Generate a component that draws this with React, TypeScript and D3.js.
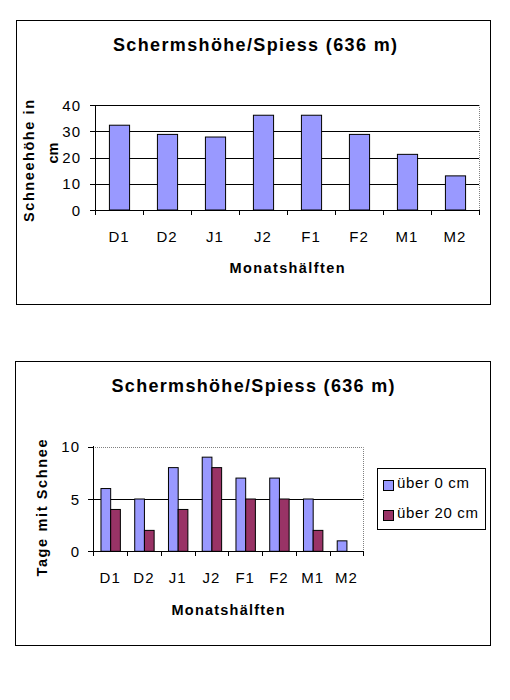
import React from "react";
import * as d3 from "d3";

const categories = ["D1", "D2", "J1", "J2", "F1", "F2", "M1", "M2"];
const snowDepth = [32.3, 28.8, 27.8, 36.1, 36.1, 28.8, 21.2, 13.0];
const daysOver0 = [6, 5, 8, 9, 7, 7, 5, 1];
const daysOver20 = [4, 2, 4, 8, 5, 5, 2, 0];
const ticks1 = [0, 10, 20, 30, 40];
const ticks2 = [0, 5, 10];
const seriesNames = ["über 0 cm", "über 20 cm"];
const seriesColors = ["#9999FF", "#993366"];

const FONT = "Arial, 'Liberation Sans', sans-serif";

function Chart1() {
  const x = d3.scaleBand<string>().domain(categories).range([95, 479]).padding(0);
  const y = d3.scaleLinear().domain([0, 40]).range([210, 105]);
  const bw = x.bandwidth() * 0.42;
  return (
    <g>
      <rect x={16.5} y={20.5} width={474} height={284} fill="white" stroke="black" strokeWidth={1} />
      <text x={255} y={50.5} textAnchor="middle" fontFamily={FONT} fontWeight="bold" fontSize={18}
        textLength={284} lengthAdjust="spacing">Schermshöhe/Spiess (636 m)</text>
      <path d={`M95,${y(40) + 0.5}H479.5V210`} fill="none" stroke="#808080" strokeDasharray="1,1" />
      {ticks1.filter(t => t > 0).map(t => (
        <line key={t} x1={95} x2={479} y1={Math.round(y(t)) + 0.5} y2={Math.round(y(t)) + 0.5} stroke="black" />
      ))}
      {ticks1.map(t => (
        <g key={"t" + t}>
          <line x1={90} x2={95} y1={Math.round(y(t)) + 0.5} y2={Math.round(y(t)) + 0.5} stroke="black" />
          <text x={81} y={y(t) + 5.5} textAnchor="end" fontFamily={FONT} fontSize={15} letterSpacing={1}>{t}</text>
        </g>
      ))}
      {categories.map((c, i) => (
        <rect key={c} x={(x(c) as number) + (x.bandwidth() - bw) / 2 + 0.5} y={y(snowDepth[i])}
          width={bw} height={y(0) - y(snowDepth[i])} fill={seriesColors[0]} stroke="black" />
      ))}
      <line x1={95.5} x2={95.5} y1={105} y2={210} stroke="black" />
      <line x1={95} x2={480} y1={210.5} y2={210.5} stroke="black" />
      {categories.concat(["_end"]).map((c, i) => {
        const xx = Math.round(95 + i * x.step()) + 0.5;
        return <line key={"xt" + i} x1={xx} x2={xx} y1={210} y2={215} stroke="black" />;
      })}
      {categories.map(c => (
        <text key={"l" + c} x={(x(c) as number) + x.bandwidth() / 2} y={241.5} textAnchor="middle"
          fontFamily={FONT} fontSize={15} letterSpacing={1}>{c}</text>
      ))}
      <text x={287} y={273} textAnchor="middle" fontFamily={FONT} fontWeight="bold" fontSize={14.5}
        textLength={115} lengthAdjust="spacing">Monatshälften</text>
      <text transform="translate(34,161) rotate(-90)" textAnchor="middle" fontFamily={FONT} fontWeight="bold"
        fontSize={14.5} textLength={122} lengthAdjust="spacing">Schneehöhe in</text>
      <text transform="translate(58,153) rotate(-90)" textAnchor="middle" fontFamily={FONT} fontWeight="bold"
        fontSize={14.5}>cm</text>
    </g>
  );
}

function Chart2() {
  const x = d3.scaleBand<string>().domain(categories).range([93.3, 363.3]).padding(0);
  const groupW = x.bandwidth() * 0.575;
  const x1 = d3.scaleBand<number>().domain([0, 1]).range([0, groupW]).padding(0);
  const y = d3.scaleLinear().domain([0, 10]).range([551.3, 446.7]);
  const series = [daysOver0, daysOver20];
  return (
    <g>
      <rect x={15.5} y={361.5} width={475} height={284} fill="white" stroke="black" strokeWidth={1} />
      <text x={253} y={392} textAnchor="middle" fontFamily={FONT} fontWeight="bold" fontSize={18}
        textLength={283} lengthAdjust="spacing">Schermshöhe/Spiess (636 m)</text>
      <path d={`M93,${Math.round(y(10)) + 0.5}H363.5V551`} fill="none" stroke="#808080" strokeDasharray="1,1" />
      {ticks2.filter(t => t > 0 && t < 10).map(t => (
        <line key={t} x1={93} x2={363} y1={Math.round(y(t)) + 0.5} y2={Math.round(y(t)) + 0.5} stroke="black" />
      ))}
      {ticks2.map(t => (
        <g key={"t" + t}>
          <line x1={88} x2={93} y1={Math.round(y(t)) + 0.5} y2={Math.round(y(t)) + 0.5} stroke="black" />
          <text x={80} y={y(t) + 5.5} textAnchor="end" fontFamily={FONT} fontSize={15} letterSpacing={1}>{t}</text>
        </g>
      ))}
      {categories.map((c, i) =>
        series.map((s, k) =>
          s[i] > 0 ? (
            <rect key={c + k}
              x={(x(c) as number) + (x.bandwidth() - groupW) / 2 + (x1(k) as number) + 0.5}
              y={y(s[i])} width={x1.bandwidth()} height={y(0) - y(s[i])}
              fill={seriesColors[k]} stroke="black" />
          ) : null
        )
      )}
      <line x1={93.5} x2={93.5} y1={446} y2={551} stroke="black" />
      <line x1={93} x2={364} y1={551.5} y2={551.5} stroke="black" />
      {categories.concat(["_end"]).map((c, i) => {
        const xx = Math.round(93.3 + i * x.step()) + 0.5;
        return <line key={"xt" + i} x1={xx} x2={xx} y1={551} y2={556} stroke="black" />;
      })}
      {categories.map(c => (
        <text key={"l" + c} x={(x(c) as number) + x.bandwidth() / 2} y={582.5} textAnchor="middle"
          fontFamily={FONT} fontSize={15} letterSpacing={1}>{c}</text>
      ))}
      <text x={228} y={615} textAnchor="middle" fontFamily={FONT} fontWeight="bold" fontSize={14.5}
        textLength={113} lengthAdjust="spacing">Monatshälften</text>
      <text transform="translate(47,508) rotate(-90)" textAnchor="middle" fontFamily={FONT} fontWeight="bold"
        fontSize={14.5} textLength={137} lengthAdjust="spacing">Tage mit Schnee</text>
      <rect x={377.5} y={468.5} width={108} height={61} fill="white" stroke="black" />
      {seriesNames.map((n, k) => (
        <g key={n}>
          <rect x={383.5} y={480.5 + k * 30} width={10} height={10} fill={seriesColors[k]} stroke="black" />
          <text x={397} y={487.5 + k * 30} fontFamily={FONT} fontSize={15} textLength={k === 0 ? 72 : 81}
            lengthAdjust="spacing">{n}</text>
        </g>
      ))}
    </g>
  );
}

export default function App() {
  return (
    <svg width={510} height={700} style={{ position: "absolute", left: 0, top: 0, background: "white" }}>
      <rect x={0} y={0} width={510} height={700} fill="white" />
      <Chart1 />
      <Chart2 />
    </svg>
  );
}
